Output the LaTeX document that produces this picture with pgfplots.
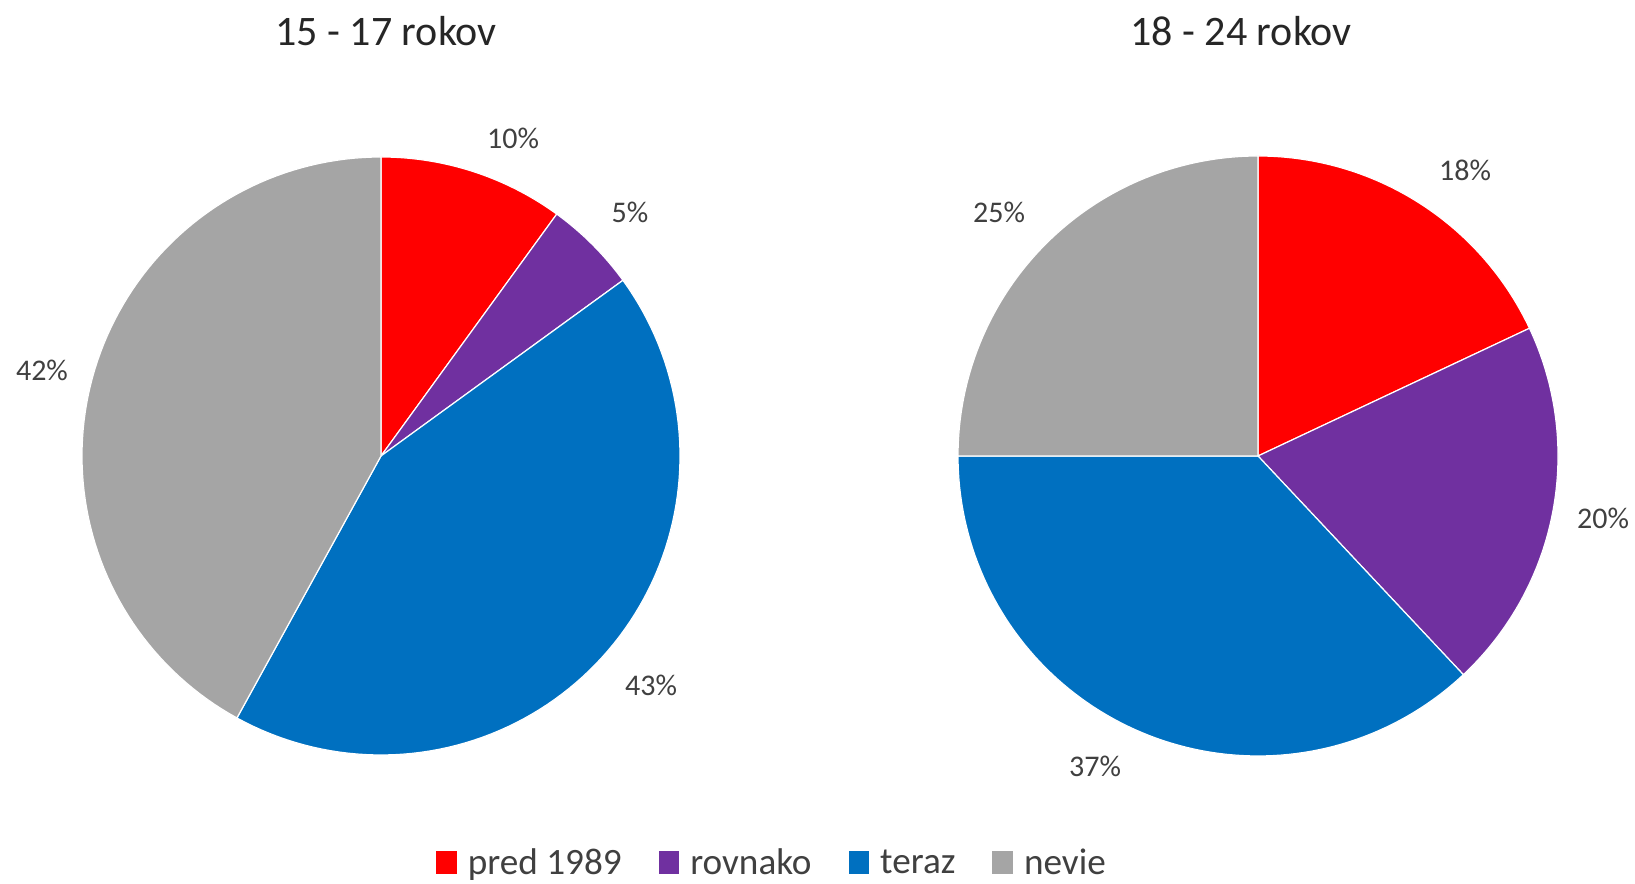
\documentclass[border=0pt]{standalone}
\usepackage{pgfplots}
\pgfplotsset{compat=1.18}
\usepackage{fontspec}
\setmainfont{Carlito}
\definecolor{cRed}{HTML}{FF0000}
\definecolor{cPurple}{HTML}{7030A0}
\definecolor{cBlue}{HTML}{0070C0}
\definecolor{cGray}{HTML}{A5A5A5}
\definecolor{txt}{HTML}{404040}
\definecolor{ttl}{HTML}{262626}
% slice: cx, cy, r, start (%), value (%), colour
\newcommand{\slice}[6]{%
  \addplot[fill=#6, draw=white, line width=0.3pt,
    domain={90-3.6*(#4+#5)}:{90-3.6*(#4)}, samples=90, variable=\t, forget plot]
    ({#1+#3*cos(\t)},{#2+#3*sin(\t)}) -- (#1,#2) -- cycle;}
\begin{document}
\begin{tikzpicture}
\begin{axis}[
  at={(0,0)}, anchor=south west,
  width=408.75pt, height=221pt, scale only axis,
  xmin=0, xmax=1635, ymin=0, ymax=884,
  hide axis, clip=false,
  legend image code/.code={\fill[#1] (0pt,-2.2pt) rectangle (4.75pt,3pt);},
  legend style={at={(axis cs:771,-5)}, anchor=south, draw=none, fill=none,
    legend columns=4, font=\fontsize{9.3}{11}\selectfont\color{txt},
    nodes={inner sep=0pt},
    /tikz/every odd column/.append style={column sep=2.75pt},
    /tikz/every even column/.append style={column sep=9.25pt}},
]
% 15 - 17 rokov: pred 1989 10, rovnako 5, teraz 43, nevie 42
\slice{381}{428}{299}{0}{10}{cRed}
\slice{381}{428}{299}{10}{5}{cPurple}
\slice{381}{428}{299}{15}{43}{cBlue}
\slice{381}{428}{299}{58}{42}{cGray}
% 18 - 24 rokov: pred 1989 18, rovnako 20, teraz 37, nevie 25
\slice{1258}{428}{300}{0}{18}{cRed}
\slice{1258}{428}{300}{18}{20}{cPurple}
\slice{1258}{428}{300}{38}{37}{cBlue}
\slice{1258}{428}{300}{75}{25}{cGray}

\addlegendimage{cRed}\addlegendentry{pred 1989}
\addlegendimage{cPurple}\addlegendentry{rovnako}
\addlegendimage{cBlue}\addlegendentry{teraz}
\addlegendimage{cGray}\addlegendentry{nevie}

\begin{scope}[every node/.style={font=\fontsize{7.5}{9}\selectfont, text=txt}]
\node at (axis cs:513,746) {10\%};
\node at (axis cs:630,672) {5\%};
\node at (axis cs:651,199) {43\%};
\node at (axis cs:42,514) {42\%};
\node at (axis cs:1465,714) {18\%};
\node at (axis cs:1603,366) {20\%};
\node at (axis cs:1095,118) {37\%};
\node at (axis cs:999,672) {25\%};
\end{scope}
\node[font=\fontsize{10.5}{12}\selectfont, text=ttl] at (axis cs:386,853) {15 - 17 rokov};
\node[font=\fontsize{10.5}{12}\selectfont, text=ttl] at (axis cs:1241,853) {18 - 24 rokov};
\end{axis}
\pgfresetboundingbox
\path (0,0) rectangle (408.75pt,221pt);
\end{tikzpicture}
\end{document}
